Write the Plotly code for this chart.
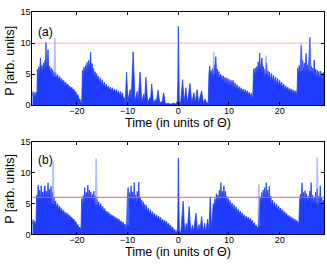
import plotly.graph_objects as go

# ---------------- data ----------------
x_range = [-28.8, 28.8]
x_ticks = [-20, -10, 0, 10, 20]
y_ticks = [0, 5, 10, 15]
threshold_a = 10
threshold_b = 6

# panel (a): (time, power) pairs, by segment
a_seg1 = [(-28.8,1.5),(-28.65,2.2),(-28.5,0.9),(-28.35,2.0),(-28.2,1.1),(-28.05,2.1),(-27.9,1.3),(-27.8,5.8),
          (-27.65,4.6),(-27.5,6.2),(-27.35,5.0),(-27.2,7.6),(-27.05,5.3),(-26.9,6.4),(-26.75,5.2),(-26.6,6.8),
          (-26.45,5.4),(-26.3,7.2),(-26.2,5.6),(-26.1,10.1),(-26.0,5.8),(-25.85,6.6),(-25.7,8.9),(-25.55,5.6),
          (-25.4,6.3),(-25.25,5.1),(-25.1,6.0),(-24.95,4.9),(-24.8,5.7),(-24.65,4.7),(-24.5,5.4),(-24.35,4.6),
          (-24.2,5.2),(-24.0,4.3),(-23.8,4.9),(-23.6,4.0),(-23.4,4.6),(-23.2,3.8),(-23.0,4.3),(-22.8,3.5),
          (-22.6,4.0),(-22.4,3.3),(-22.2,3.7),(-22.0,3.0),(-21.8,3.4),(-21.6,2.8),(-21.4,3.1),(-21.2,2.5),
          (-21.0,2.9),(-20.8,2.2),(-20.6,2.6),(-20.4,1.9),(-20.2,2.2),(-20.0,1.4),(-19.8,1.7),(-19.6,0.9),
          (-19.4,1.0),(-19.2,0.4),(-19.05,0.6)]
a_seg2 = [(-18.9,5.6),(-18.75,4.4),(-18.6,6.1),(-18.45,4.9),(-18.3,6.4),(-18.15,5.0),(-18.0,6.9),(-17.85,5.3),
          (-17.7,7.2),(-17.55,5.4),(-17.4,8.0),(-17.3,8.5),(-17.15,5.3),(-17.0,6.7),(-16.85,4.8),(-16.7,5.9),
          (-16.55,4.4),(-16.4,5.4),(-16.25,4.1),(-16.1,5.1),(-15.95,3.8),(-15.8,4.7),(-15.6,3.6),(-15.4,4.4),
          (-15.2,3.3),(-15.0,4.1),(-14.8,3.0),(-14.6,3.7),(-14.4,2.8),(-14.2,3.4),(-14.0,2.6),(-13.8,3.1),
          (-13.6,2.4),(-13.4,2.9),(-13.2,2.3),(-13.0,2.8),(-12.8,2.1),(-12.6,2.6),(-12.4,2.0),(-12.2,2.5),
          (-12.0,1.8),(-11.8,2.3),(-11.6,1.6),(-11.4,2.2),(-11.2,1.4),(-11.0,2.0),(-10.8,0.9),(-10.65,1.2),
          (-10.5,0.3)]
a_seg3 = [(-10.45,0.6),(-10.2,5.3),(-9.95,0.6),(-9.5,2.5),(-9.3,0.8),(-8.9,8.6),(-8.55,0.6),(-8.1,2.2),(-7.9,0.6),
          (-7.55,5.3),(-7.2,0.5),(-6.8,1.8),(-6.65,0.5),(-6.4,4.5),(-6.05,0.4),(-5.6,1.2),(-5.5,0.4),
          (-5.25,3.4),(-4.9,0.3),(-4.5,0.9),(-4.35,0.3),(-4.0,2.4),(-3.65,0.3),(-3.3,0.6),(-3.2,0.2),
          (-2.9,2.0),(-2.55,0.2),(-2.0,0.3),(-1.5,0.15),(-1.0,0.3),(-0.5,0.2),(-0.2,0.6),(-0.08,4.0),
          (0.0,12.7),(0.08,4.0),(0.2,0.6),(0.45,0.3),(0.85,4.1),(1.15,0.4),(1.5,2.8),(1.8,0.3),
          (2.3,3.5),(2.65,0.3),(3.1,2.0),(3.35,0.3),(3.7,2.5),(4.0,0.3),(4.6,2.3),(4.95,0.3),
          (5.3,1.0),(5.6,0.3),(5.9,0.4)]
a_seg4 = [(6.05,5.0),(6.2,6.3),(6.35,4.6),(6.5,5.6),(6.65,4.2),(6.8,5.9),(6.95,4.4),(7.1,6.4),
          (7.25,4.8),(7.4,7.8),(7.55,4.9),(7.7,5.8),(7.85,4.3),(8.0,5.4),(8.15,4.0),(8.3,5.0),
          (8.45,3.9),(8.6,4.8),(8.75,3.7),(8.9,4.7),(9.05,3.5),(9.2,4.5),(9.4,3.4),(9.6,4.4),
          (9.8,3.2),(10.0,4.2),(10.2,3.1),(10.4,4.0),(10.6,2.9),(10.8,4.0),(11.0,2.7),(11.2,3.6),
          (11.4,2.6),(11.6,3.3),(11.8,2.4),(12.0,3.0),(12.2,2.2),(12.4,2.8),(12.6,2.1),(12.8,2.6),
          (13.0,1.9),(13.2,2.5),(13.4,1.8),(13.6,2.3),(13.8,1.6),(14.0,2.1),(14.2,1.4),(14.4,1.9),
          (14.55,1.0),(14.7,1.5)]
a_seg5 = [(14.85,5.8),(15.0,4.6),(15.15,6.0),(15.3,4.8),(15.45,6.2),(15.6,5.0),(15.75,7.0),(15.9,5.2),
          (16.05,8.4),(16.2,5.3),(16.35,6.6),(16.5,7.6),(16.65,5.0),(16.8,6.2),(16.95,4.7),(17.1,5.8),
          (17.25,4.6),(17.4,6.8),(17.55,4.4),(17.7,5.5),(17.85,4.2),(18.0,5.3),(18.2,4.0),(18.4,5.1),
          (18.6,3.8),(18.8,4.8),(19.0,3.5),(19.2,4.5),(19.4,3.3),(19.6,4.3),(19.8,3.1),(20.0,4.0),
          (20.2,2.9),(20.4,3.7),(20.6,2.7),(20.8,3.4),(21.0,2.5),(21.2,3.1),(21.4,2.3),(21.6,2.9),
          (21.8,2.2),(22.0,2.7),(22.2,2.0),(22.4,2.6),(22.6,1.9),(22.8,2.4),(23.0,1.7),(23.2,2.3),
          (23.4,1.4)]
a_seg6 = [(23.55,6.0),(23.7,4.8),(23.85,6.4),(24.0,5.0),(24.15,7.0),(24.25,9.6),(24.4,5.4),(24.55,7.2),
          (24.7,5.2),(24.85,6.8),(25.0,5.0),(25.2,8.3),(25.35,5.2),(25.5,6.5),(25.65,5.0),(25.8,7.0),
          (25.95,10.9),(26.1,5.4),(26.25,6.3),(26.4,4.8),(26.55,6.0),(26.7,4.6),(26.8,7.3),(26.95,4.5),
          (27.1,5.8),(27.25,4.4),(27.4,5.6),(27.55,4.3),(27.7,5.4),(27.85,4.2),(28.0,5.5),(28.15,4.1),
          (28.3,5.2),(28.45,4.0),(28.6,5.3),(28.8,4.4)]
# faint (light) spikes of panel (a): time, peak, local base
faint_t_a = [-24.35, 7.0, 17.3, 24.3, 26.0]
faint_p_a = [10.8, 8.6, 8.0, 9.9, 10.6]
faint_b_a = [4.6, 5.0, 5.0, 5.5, 5.5]

# panel (b)
b_seg1 = [(-28.8,1.6),(-28.65,2.4),(-28.5,1.2),(-28.35,2.2),(-28.2,1.4),(-28.05,2.3),(-27.95,6.4),(-27.8,5.0),
          (-27.65,8.0),(-27.5,5.4),(-27.35,7.2),(-27.2,5.5),(-27.05,7.9),(-26.9,5.6),(-26.75,6.9),(-26.6,5.3),
          (-26.45,7.4),(-26.3,7.9),(-26.15,5.5),(-26.0,7.0),(-25.85,5.8),(-25.7,8.4),(-25.55,5.6),(-25.4,7.3),
          (-25.25,5.4),(-25.1,7.8),(-24.95,5.2),(-24.8,6.8),(-24.65,4.8),(-24.5,6.0),(-24.35,4.6),(-24.2,5.4),
          (-24.0,4.3),(-23.8,5.0),(-23.6,4.0),(-23.4,4.6),(-23.2,3.7),(-23.0,4.2),(-22.8,3.4),(-22.6,3.9),
          (-22.4,3.2),(-22.2,3.6),(-22.0,3.0),(-21.8,3.4),(-21.6,2.8),(-21.4,3.1),(-21.2,2.6),(-21.0,2.8),
          (-20.8,2.3),(-20.6,2.5),(-20.4,1.9),(-20.2,2.1),(-20.0,1.4),(-19.8,1.6),(-19.6,1.0),(-19.4,1.2),
          (-19.2,0.6)]
b_seg2 = [(-19.05,5.8),(-18.9,4.6),(-18.75,6.3),(-18.6,5.0),(-18.45,7.6),(-18.3,5.4),(-18.15,6.8),(-18.0,5.5),
          (-17.85,8.0),(-17.7,5.6),(-17.55,7.2),(-17.4,5.4),(-17.25,6.9),(-17.1,5.2),(-16.95,6.5),(-16.8,5.0),
          (-16.65,7.0),(-16.5,4.9),(-16.35,6.2),(-16.2,4.7),(-16.05,5.8),(-15.9,4.5),(-15.7,5.3),(-15.5,4.2),
          (-15.3,5.0),(-15.1,3.9),(-14.9,4.6),(-14.7,3.6),(-14.5,4.2),(-14.3,3.4),(-14.1,3.8),(-13.9,3.1),
          (-13.7,3.6),(-13.5,2.9),(-13.3,3.3),(-13.1,2.7),(-12.9,3.1),(-12.7,2.5),(-12.5,2.9),(-12.3,2.3),
          (-12.1,2.7),(-11.9,2.1),(-11.7,2.5),(-11.5,1.9),(-11.3,2.2),(-11.1,1.7),(-10.9,2.0),(-10.7,1.4),
          (-10.5,1.7),(-10.35,0.8),(-10.2,1.2)]
b_seg3 = [(-10.05,6.0),(-9.9,7.6),(-9.75,5.4),(-9.6,6.8),(-9.45,5.2),(-9.3,7.9),(-9.15,5.3),(-9.0,6.9),
          (-8.85,5.0),(-8.7,8.4),(-8.55,5.3),(-8.4,6.4),(-8.25,5.0),(-8.1,7.0),(-7.95,5.2),(-7.8,8.5),
          (-7.65,5.0),(-7.5,6.0),(-7.35,4.6),(-7.2,5.6),(-7.05,4.2),(-6.9,5.3),(-6.75,4.0),(-6.6,4.9),
          (-6.45,3.8),(-6.3,4.7),(-6.1,3.6),(-5.9,4.3),(-5.7,3.3),(-5.5,4.0),(-5.3,3.1),(-5.1,3.7),
          (-4.9,2.9),(-4.7,3.4),(-4.5,2.7),(-4.3,3.2),(-4.1,2.5),(-3.9,3.0),(-3.7,2.3),(-3.5,2.8),
          (-3.3,2.1),(-3.1,2.5),(-2.9,1.9),(-2.7,2.3),(-2.5,1.7),(-2.3,2.1),(-2.1,1.4),(-1.9,1.8),
          (-1.7,1.1),(-1.5,1.5),(-1.3,0.8),(-1.1,1.2),(-0.9,0.5),(-0.7,0.8),(-0.5,0.3),(-0.3,0.5),
          (-0.15,1.0),(-0.07,4.0),(0.0,12.4),(0.07,4.0),(0.2,0.6),(0.5,0.3),(0.95,5.4),(1.25,0.4),
          (1.6,1.8),(1.75,0.4),(2.15,4.5),(2.45,0.4),(2.8,1.5),(3.0,0.4),(3.5,3.4),(3.8,0.4),
          (4.1,1.6),(4.25,0.3),(4.6,2.9),(4.9,0.3),(5.2,1.8),(5.4,0.3),(5.8,2.5),(6.05,0.4),
          (6.3,6.1),(6.55,0.6)]
b_seg4 = [(6.75,3.5),(6.9,5.0),(7.05,4.2),(7.2,5.8),(7.35,4.6),(7.5,6.6),(7.65,5.0),(7.8,6.4),
          (7.95,5.2),(8.1,7.2),(8.25,5.4),(8.4,8.4),(8.55,5.5),(8.7,7.0),(8.85,5.4),(9.0,7.9),
          (9.15,5.3),(9.3,7.0),(9.45,5.0),(9.6,6.2),(9.75,4.7),(9.9,5.8),(10.05,4.5),(10.2,5.5),
          (10.4,4.2),(10.6,5.1),(10.8,3.9),(11.0,4.8),(11.2,3.7),(11.4,4.5),(11.6,3.5),(11.8,4.1),
          (12.0,3.2),(12.2,3.8),(12.4,3.0),(12.6,3.5),(12.8,2.8),(13.0,3.2),(13.2,2.6),(13.4,3.0),
          (13.6,2.4),(13.8,2.8),(14.0,2.2),(14.2,2.6),(14.4,2.0),(14.6,2.3),(14.8,1.6),(15.0,1.9),
          (15.2,1.2),(15.4,1.5),(15.6,1.0),(15.8,1.3)]
b_seg5 = [(16.0,4.5),(16.15,6.1),(16.3,4.8),(16.45,6.8),(16.6,5.2),(16.75,7.2),(16.9,5.5),(17.05,7.6),
          (17.2,5.6),(17.35,8.4),(17.5,5.6),(17.65,7.2),(17.8,5.4),(17.95,7.8),(18.1,5.0),(18.25,6.2),
          (18.4,4.7),(18.6,5.6),(18.8,4.4),(19.0,5.2),(19.2,4.2),(19.4,4.9),(19.6,3.9),(19.8,4.6),
          (20.0,3.7),(20.2,4.3),(20.4,3.4),(20.6,4.0),(20.8,3.2),(21.0,3.7),(21.2,3.0),(21.4,3.4),
          (21.6,2.7),(21.8,3.1),(22.0,2.5),(22.2,2.9),(22.4,2.3),(22.6,2.7),(22.8,2.1),(23.0,2.5),
          (23.2,1.9),(23.4,2.3),(23.6,1.7),(23.8,2.1)]
b_seg6 = [(23.95,5.5),(24.1,6.5),(24.25,5.2),(24.4,8.4),(24.55,5.4),(24.7,6.8),(24.85,5.2),(25.0,7.1),
          (25.15,5.3),(25.3,6.6),(25.45,5.1),(25.6,6.2),(25.75,5.0),(25.9,7.0),(26.05,5.3),(26.2,8.4),
          (26.35,5.1),(26.5,6.4),(26.65,4.9),(26.8,6.0),(26.95,4.8),(27.1,6.9),(27.25,5.0),(27.4,7.4),
          (27.55,5.0),(27.7,6.2),(27.85,4.8),(28.0,7.9),(28.15,4.9),(28.3,6.0),(28.45,4.6),(28.6,5.6),
          (28.8,4.7)]
faint_t_b = [-24.7, -16.2, 15.9, 27.4, -9.9]
faint_p_b = [11.8, 12.3, 8.2, 12.5, 7.6]
faint_b_b = [5.0, 4.8, 1.5, 5.0, 1.5]

# ---------------- styles ----------------
BLUE = "rgb(30,60,255)"
FAINT = "rgba(110,130,255,0.5)"
FONT = "Arial, Liberation Sans, sans-serif"
W, H = 327, 268
plot_left, plot_right = 32.3, 324.3
panels = [
    dict(segs=[a_seg1, a_seg2, a_seg3, a_seg4, a_seg5, a_seg6], ft=faint_t_a, fp=faint_p_a, fb=faint_b_a,
         thr=threshold_a, thr_col="rgba(255,120,120,0.45)", top=7.3, bot=104.0, label="(a)", lab_y=28.3,
         xt_y=122.5, yt_y=58.0),
    dict(segs=[b_seg1, b_seg2, b_seg3, b_seg4, b_seg5, b_seg6], ft=faint_t_b, fp=faint_p_b, fb=faint_b_b,
         thr=threshold_b, thr_col="rgba(240,90,90,0.8)", top=142.3, bot=238.3, label="(b)", lab_y=161.5,
         xt_y=257.0, yt_y=191.0),
]

fig = go.Figure()
annotations = []
for i, pan in enumerate(panels):
    sfx = "" if i == 0 else str(i + 1)
    xa, ya = "x" + sfx, "y" + sfx
    ts, ps = [], []
    for seg in pan["segs"]:
        for t, p in seg:
            ts.append(t)
            ps.append(p)
    fig.add_trace(go.Scatter(x=ts, y=ps, mode="lines", fill="tozeroy", fillcolor=BLUE,
                             line=dict(color=BLUE, width=0.8), xaxis=xa, yaxis=ya,
                             showlegend=False, hoverinfo="skip"))
    fx, fy = [], []
    for t, p, b in zip(pan["ft"], pan["fp"], pan["fb"]):
        fx += [t - 0.12, t, t + 0.12, None]
        fy += [b, p, b, None]
    fig.add_trace(go.Scatter(x=fx, y=fy, mode="lines", line=dict(color=FAINT, width=1.6),
                             xaxis=xa, yaxis=ya, showlegend=False, hoverinfo="skip"))
    fig.add_trace(go.Scatter(x=x_range, y=[pan["thr"], pan["thr"]], mode="lines",
                             line=dict(color=pan["thr_col"], width=1.2), xaxis=xa, yaxis=ya,
                             showlegend=False, hoverinfo="skip"))
    axcommon = dict(showline=True, linecolor="black", linewidth=0.8, mirror="ticks", ticks="inside",
                    ticklen=3, tickcolor="black", tickwidth=0.8, showgrid=False, zeroline=False,
                    tickfont=dict(family=FONT, size=9, color="black"))
    fig.update_layout(**{
        "xaxis" + sfx: dict(domain=[plot_left / W, plot_right / W], range=x_range, tickvals=x_ticks,
                            anchor=ya, ticklabelstandoff=-3, **axcommon),
        "yaxis" + sfx: dict(domain=[1 - pan["bot"] / H, 1 - pan["top"] / H], range=[0, 15],
                            tickvals=y_ticks, anchor=xa, ticklabelstandoff=-1, **axcommon),
    })
    annotations.append(dict(text=pan["label"], x=45.3 / W, y=1 - pan["lab_y"] / H, xref="paper",
                            yref="paper", showarrow=False, xanchor="center", yanchor="middle",
                            font=dict(family=FONT, size=12, color="black")))
    annotations.append(dict(text="Time (in units of Θ)", x=(plot_left + plot_right) / 2 / W,
                            y=1 - pan["xt_y"] / H, xref="paper", yref="paper", showarrow=False,
                            xanchor="center", yanchor="middle",
                            font=dict(family=FONT, size=12.5, color="black")))
    annotations.append(dict(text="P [arb. units]", x=10.0 / W, y=1 - pan["yt_y"] / H, xref="paper",
                            yref="paper", showarrow=False, xanchor="center", yanchor="middle",
                            textangle=-90, font=dict(family=FONT, size=12.5, color="black")))

fig.update_layout(width=W, height=H, margin=dict(l=0, r=0, t=0, b=0), paper_bgcolor="white",
                  plot_bgcolor="white", annotations=annotations)
fig.write_html("out.html", config={"displayModeBar": False},
               post_script="document.body.style.margin='0';document.body.style.overflow='hidden';")
